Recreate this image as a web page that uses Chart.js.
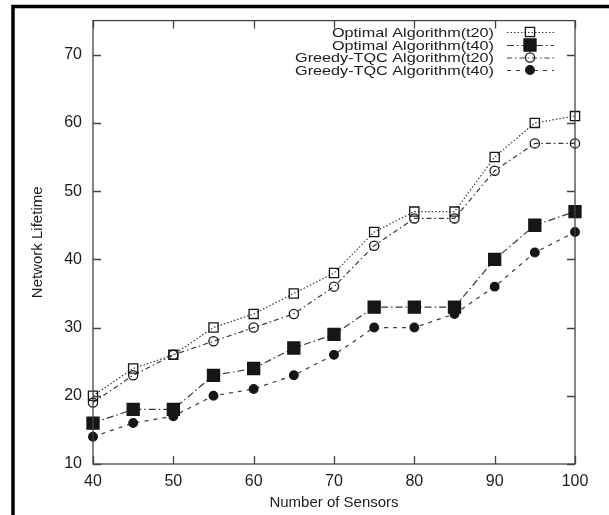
<!DOCTYPE html>
<html>
<head>
<meta charset="utf-8">
<script src="https://cdn.jsdelivr.net/npm/chart.js@4/dist/chart.umd.min.js"></script>
<style>
  html, body { margin: 0; padding: 0; background: #fff; }
  #wrap { width: 609px; height: 515px; position: relative; }
</style>
</head>
<body>
<div id="wrap"><canvas id="c" width="609" height="515"></canvas></div>
<script>
// Number of sensors on the x axis
const sensors = [40, 45, 50, 55, 60, 65, 70, 75, 80, 85, 90, 95, 100];

// Network lifetime for each algorithm / threshold
const optimalT20 = [20, 24, 26, 30, 32, 35, 38, 44, 47, 47, 55, 60, 61];
const optimalT40 = [16, 18, 18, 23, 24, 27, 29, 33, 33, 33, 40, 45, 47];
const greedyT20  = [19, 23, 26, 28, 30, 32, 36, 42, 46, 46, 53, 57, 57];
const greedyT40  = [14, 16, 17, 20, 21, 23, 26, 30, 30, 32, 36, 41, 44];

const seriesNames = [
  'Optimal Algorithm(t20)',
  'Optimal Algorithm(t40)',
  'Greedy-TQC Algorithm(t20)',
  'Greedy-TQC Algorithm(t40)'
];

const xTicks = [40, 50, 60, 70, 80, 90, 100];
const yTicks = [10, 20, 30, 40, 50, 60, 70];

const axisFont = 'Liberation Sans, Arial, Helvetica, sans-serif';
const textColor = '#1c1c1c';
const lineColor = '#3a3a3a';
const markColor = '#161616';

function pts(arr) { return sensors.map((x, i) => ({ x: x, y: arr[i] })); }

const styles = [
  { dash: [1.5, 2],        pointStyle: 'rect',   radius: 6.5, fill: 'rgba(0,0,0,0)', lw: 1.2 },
  { dash: [7, 3, 1.5, 3],  pointStyle: 'rect',   radius: 8.5, fill: markColor,       lw: 1.2 },
  { dash: [5, 3, 1.5, 3],  pointStyle: 'circle', radius: 4.6, fill: 'rgba(0,0,0,0)', lw: 1.2 },
  { dash: [4, 5],          pointStyle: 'circle', radius: 4.3, fill: markColor,       lw: 1.2 }
];

const seriesData = [optimalT20, optimalT40, greedyT20, greedyT40];

const datasets = seriesData.map((arr, i) => ({
  label: seriesNames[i],
  data: pts(arr),
  borderColor: lineColor,
  borderWidth: styles[i].lw,
  borderDash: styles[i].dash,
  pointStyle: styles[i].pointStyle,
  pointRadius: styles[i].radius,
  pointHoverRadius: styles[i].radius,
  pointBackgroundColor: styles[i].fill,
  pointBorderColor: markColor,
  pointBorderWidth: 1.3,
  fill: false,
  tension: 0,
  clip: false
}));

// Draws the figure frame, plot box, inward ticks on all sides, axis titles and the key
const decorations = {
  id: 'decorations',
  afterDraw(chart) {
    const ctx = chart.ctx;
    const a = chart.chartArea;
    const xs = chart.scales.x, ys = chart.scales.y;
    ctx.save();

    // outer figure frame (left and top edges)
    ctx.strokeStyle = '#000';
    ctx.lineWidth = 3.5;
    ctx.beginPath();
    ctx.moveTo(13, 515);
    ctx.lineTo(13, 6.5);
    ctx.lineTo(609, 6.5);
    ctx.stroke();

    // plot box
    ctx.strokeStyle = '#444';
    ctx.lineWidth = 1.3;
    ctx.strokeRect(a.left, a.top, a.right - a.left, a.bottom - a.top);

    // inward tick marks
    const tl = 8;
    ctx.beginPath();
    yTicks.forEach(v => {
      const y = Math.round(ys.getPixelForValue(v)) + 0.5;
      ctx.moveTo(a.left, y); ctx.lineTo(a.left + tl, y);
      ctx.moveTo(a.right, y); ctx.lineTo(a.right - tl, y);
    });
    xTicks.forEach(v => {
      const x = Math.round(xs.getPixelForValue(v)) + 0.5;
      ctx.moveTo(x, a.bottom); ctx.lineTo(x, a.bottom - tl);
      ctx.moveTo(x, a.top); ctx.lineTo(x, a.top + tl);
    });
    ctx.stroke();

    // axis titles
    ctx.fillStyle = textColor;
    ctx.font = '15px ' + axisFont;
    ctx.textAlign = 'center';
    ctx.textBaseline = 'middle';
    ctx.fillText('Number of Sensors', (a.left + a.right) / 2, 503);
    ctx.save();
    ctx.translate(38, (a.top + a.bottom) / 2);
    ctx.rotate(-Math.PI / 2);
    ctx.fillText('Network Lifetime', 0, 0);
    ctx.restore();

    // key: labels right-aligned, sample line with marker to the right
    const rows = [32, 45, 57.5, 70];
    ctx.font = '13.5px ' + axisFont;
    ctx.textAlign = 'right';
    rows.forEach((y, i) => {
      ctx.save();
      ctx.fillStyle = textColor;
      ctx.translate(494, y + 1);
      ctx.scale(1.2, 1);
      ctx.fillText(seriesNames[i], 0, 0);
      ctx.restore();
      const st = styles[i];
      ctx.strokeStyle = lineColor;
      ctx.lineWidth = st.lw;
      ctx.setLineDash(st.dash);
      ctx.beginPath();
      ctx.moveTo(507, y + 0.5); ctx.lineTo(554, y + 0.5);
      ctx.stroke();
      ctx.setLineDash([]);
      ctx.fillStyle = st.fill;
      ctx.strokeStyle = markColor;
      ctx.lineWidth = 1.3;
      const r = st.pointStyle === 'rect' ? st.radius * Math.SQRT1_2 : st.radius;
      ctx.beginPath();
      if (st.pointStyle === 'rect') ctx.rect(530 - r, y - r, 2 * r, 2 * r);
      else ctx.arc(530, y, r, 0, Math.PI * 2);
      ctx.fill();
      ctx.stroke();
    });

    ctx.restore();
  }
};

new Chart(document.getElementById('c'), {
  type: 'line',
  data: { datasets: datasets },
  options: {
    responsive: false,
    animation: false,
    events: [],
    layout: { padding: { left: 0, top: 17, right: 34, bottom: 0 } },
    plugins: { legend: { display: false }, tooltip: { enabled: false } },
    scales: {
      x: {
        type: 'linear',
        min: 40, max: 100,
        afterFit(s) { s.height = 51; },
        afterBuildTicks(s) { s.ticks = xTicks.map(v => ({ value: v })); },
        grid: { display: false, drawTicks: false },
        border: { display: false },
        ticks: { padding: 8, color: textColor, font: { family: axisFont, size: 16 }, maxRotation: 0 }
      },
      y: {
        type: 'linear',
        min: 10, max: 75,
        afterFit(s) { s.width = 93; },
        afterBuildTicks(s) { s.ticks = yTicks.map(v => ({ value: v })); },
        grid: { display: false, drawTicks: false },
        border: { display: false },
        ticks: { padding: 11, color: textColor, font: { family: axisFont, size: 16 } }
      }
    }
  },
  plugins: [decorations]
});
</script>
</body>
</html>
